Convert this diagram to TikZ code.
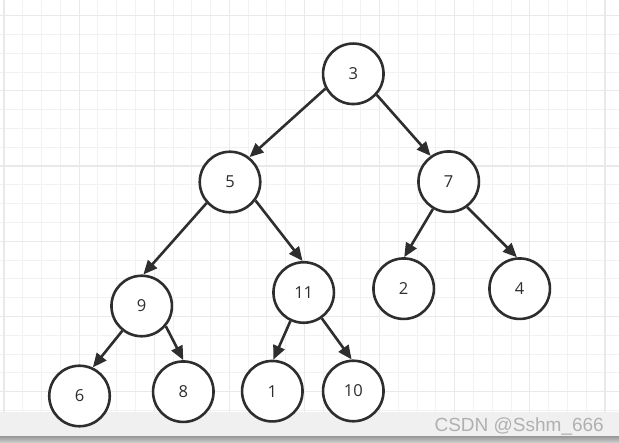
\documentclass[tikz,border=0pt]{standalone}
\usepackage{fontspec}
\setmainfont{Open Sans}
\newfontfamily\wmfont{Liberation Sans}
\usetikzlibrary{arrows.meta}
\definecolor{ink}{HTML}{2E2E2E}
\definecolor{gridminor}{HTML}{F2F2F2}
\definecolor{gridmajor}{HTML}{E9E9E9}
\definecolor{band}{HTML}{F0F0F0}
\definecolor{wm}{HTML}{B0B0B0}
\begin{document}
\begin{tikzpicture}[x=1pt,y=-1pt,
  tnode/.style={circle,draw=ink,line width=2.6pt,fill=white,minimum size=60.5pt,inner sep=0pt,text=ink,font=\fontsize{16.5}{18}\selectfont},
  edge/.style={draw=ink,line width=2.6pt,-{Triangle[length=14pt,width=12pt]}},
  minorline/.style={draw=gridminor,line width=1pt},
  majorline/.style={draw=gridmajor,line width=1.2pt}]
\useasboundingbox (0,0) rectangle (619,443);
\fill[white] (0,0) rectangle (619,443);
% grid
\foreach \k in {0,...,32} { \draw[minorline] ({4+18.78*\k},0) -- ({4+18.78*\k},412); }
\foreach \k in {0,...,21} { \draw[minorline] (0,{15.7+18.8*\k}) -- (619,{15.7+18.8*\k}); }
\foreach \k in {0,4,...,32} { \draw[majorline] ({4+18.78*\k},0) -- ({4+18.78*\k},412); }
\foreach \k in {0,4,...,20} { \draw[majorline] (0,{15.7+18.8*\k}) -- (619,{15.7+18.8*\k}); }
% bottom band
\fill[band] (0,412) rectangle (619,437);
\shade[top color=black!38, bottom color=black!18] (0,437) rectangle (619,443);
\node[anchor=base east,inner sep=0pt,text=wm,font=\wmfont\fontsize{19}{20}\selectfont] (wm) at (604,432) {CSDN @Sshm\_666};
% nodes
\node[tnode] (n3) at (353.3,73.8) {3};
\node[tnode] (n5) at (230,182) {5};
\node[tnode] (n7) at (448.7,181.7) {7};
\node[tnode] (n9) at (141.7,306) {9};
\node[tnode] (n11) at (303.7,292.5) {11};
\node[tnode] (n2) at (403.7,288.7) {2};
\node[tnode] (n4) at (519.7,288.7) {4};
\node[tnode] (n6) at (79.5,396) {6};
\node[tnode] (n8) at (183.3,391.7) {8};
\node[tnode] (n1) at (272.3,391.2) {1};
\node[tnode] (n10) at (353.3,391) {10};
% edges
\draw[edge] (n3.208) -- (n5.52);
\draw[edge] (n3.318) -- (n7.125);
\draw[edge] (n5.222) -- (n9.87);
\draw[edge] (n5.324) -- (n11.92);
\draw[edge] (n7.240) -- (n2.89);
\draw[edge] (n7.306) -- (n4.95);
\draw[edge] (n9.232) -- (n6.65);
\draw[edge] (n9.320) -- (n8.90);
\draw[edge] (n11.245) -- (n1.88);
\draw[edge] (n11.305) -- (n10.93);
\end{tikzpicture}
\end{document}
